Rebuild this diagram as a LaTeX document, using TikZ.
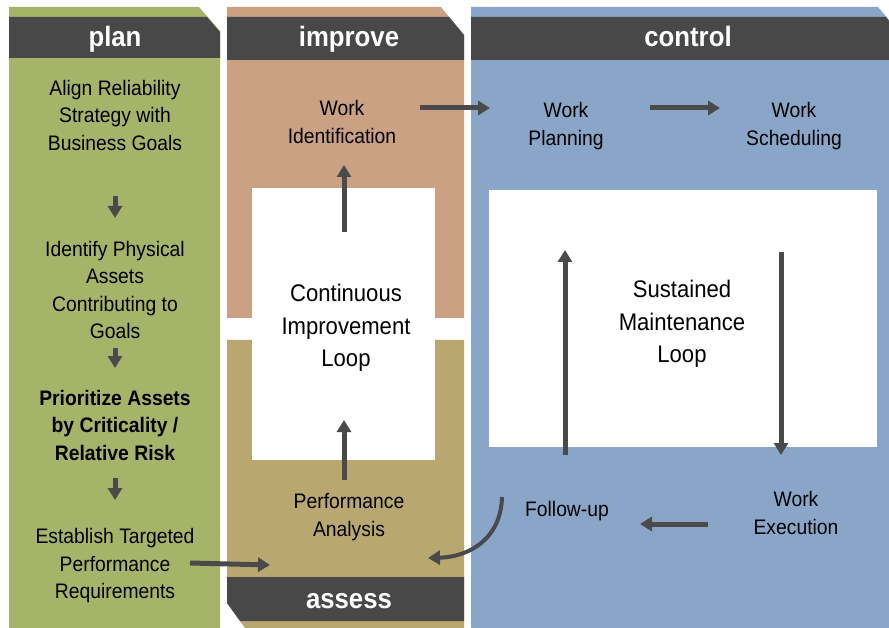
\documentclass[tikz,border=0pt]{standalone}
\usepackage{fontspec}
\setmainfont[FakeStretch=0.92]{Liberation Sans}
\usepackage{xcolor}
\usetikzlibrary{arrows.meta,calc}

\definecolor{plangreen}{RGB}{166,180,106}
\definecolor{imptan}{RGB}{203,161,131}
\definecolor{asskhaki}{RGB}{184,168,112}
\definecolor{ctrlblue}{RGB}{137,166,200}
\definecolor{bandgray}{RGB}{72,72,72}
\definecolor{arrgray}{RGB}{74,74,74}

\begin{document}
\begin{tikzpicture}[x=1pt,y=-1pt,
  txt/.style={inner sep=0pt,align=center,font=\fontsize{21}{27.5}\selectfont},
  looptxt/.style={inner sep=0pt,align=center,font=\fontsize{24}{32.5}\selectfont},
  head/.style={inner sep=0pt,anchor=base,text=white,font=\fontsize{28}{32}\selectfont\bfseries},
  arr/.style={draw=arrgray,line width=5pt,-{Triangle[length=12pt,width=14pt]}}]
\useasboundingbox (0,0) rectangle (889,628);

% columns
\fill[plangreen] (9,7) -- (199,7) -- (220,31) -- (220,628) -- (9,628) -- cycle;
\fill[imptan] (227,7) -- (441,7) -- (464,35) -- (464,318) -- (227,318) -- cycle;
\fill[asskhaki] (227,340) -- (464,340) -- (464,628) -- (245,628) -- (227,603) -- cycle;
\fill[ctrlblue] (471,7) -- (878,7) -- (889,20) -- (889,628) -- (471,628) -- cycle;

% header bands
\fill[bandgray] (9,17) -- (207,17) -- (220,32) -- (220,58) -- (9,58) -- cycle;
\fill[bandgray] (227,17) -- (449,17) -- (464,35) -- (464,60) -- (227,60) -- cycle;
\fill[bandgray] (471,17) -- (886,17) -- (889,21) -- (889,60) -- (471,60) -- cycle;
\fill[bandgray] (227,577) -- (464,577) -- (464,621) -- (240,621) -- (227,603) -- cycle;

% loop boxes
\fill[white] (252,188) rectangle (435,460);
\fill[white] (489,190) rectangle (877,447);

\node[head] (plan) at (115,47) {plan};
\node[head] (improve) at (349,47) {improve};
\node[head] (control) at (688,47) {control};
\node[head] (assess) at (349,608) {assess};

% plan column
\node[txt] (align) at (115,115) {Align Reliability\\Strategy with\\Business Goals};
\node[txt] (ident) at (115,290) {Identify Physical\\Assets\\Contributing to\\Goals};
\node[txt,font=\fontsize{21}{27.5}\selectfont\bfseries] (prio) at (115,425) {Prioritize Assets\\by Criticality /\\Relative Risk};
\node[txt] (estab) at (115,566) {Establish Targeted\\Performance\\Requirements};

% improve / assess
\node[txt] (wid) at (342,122) {Work\\Identification};
\node[looptxt] (cil) at (346,328) {Continuous\\Improvement\\Loop};
\node[txt] (perf) at (349,517) {Performance\\Analysis};

% control
\node[txt] (wplan) at (566,126) {Work\\Planning};
\node[txt] (wsched) at (794,126) {Work\\Scheduling};
\node[looptxt] (sml) at (682,324) {Sustained\\Maintenance\\Loop};
\node[txt] (wexec) at (796,513) {Work\\Execution};
\node[txt] (follow) at (567,511) {Follow-up};

% arrows
\draw[arr] ($(align)+(0,81)$) -- ($(ident)+(0,-72)$);
\draw[arr] ($(ident)+(0,58)$) -- ($(prio)+(0,-57)$);
\draw[arr] ($(prio)+(0,53)$) -- ($(estab)+(0,-66)$);
\draw[arr] ($(estab)+(75,-3)$) -- ($(perf)+(-79,48)$);
\draw[arr] ($(perf)+(-5,-37)$) -- ($(cil)+(-2,92)$);
\draw[arr] ($(cil)+(-2,-96)$) -- ($(wid)+(2,43)$);
\draw[arr] ($(wid)+(78,-14)$) -- ($(wplan)+(-76,-18)$);
\draw[arr] ($(wplan)+(84,-18)$) -- ($(wsched)+(-74,-18)$);
\draw[arr] ($(wsched)+(-13,126)$) -- ($(wexec)+(-15,-58)$);
\draw[arr] ($(wexec)+(-88,11)$) -- ($(follow)+(73,13)$);
\draw[arr] ($(follow)+(-2,-56)$) -- ($(wplan)+(-1,124)$);
\draw[arr,line width=4pt] ($(follow)+(-65,-14)$) .. controls ($(follow)+(-66,28)$) and ($(follow)+(-98,46)$) .. ($(perf)+(79,41)$);
\end{tikzpicture}
\end{document}
